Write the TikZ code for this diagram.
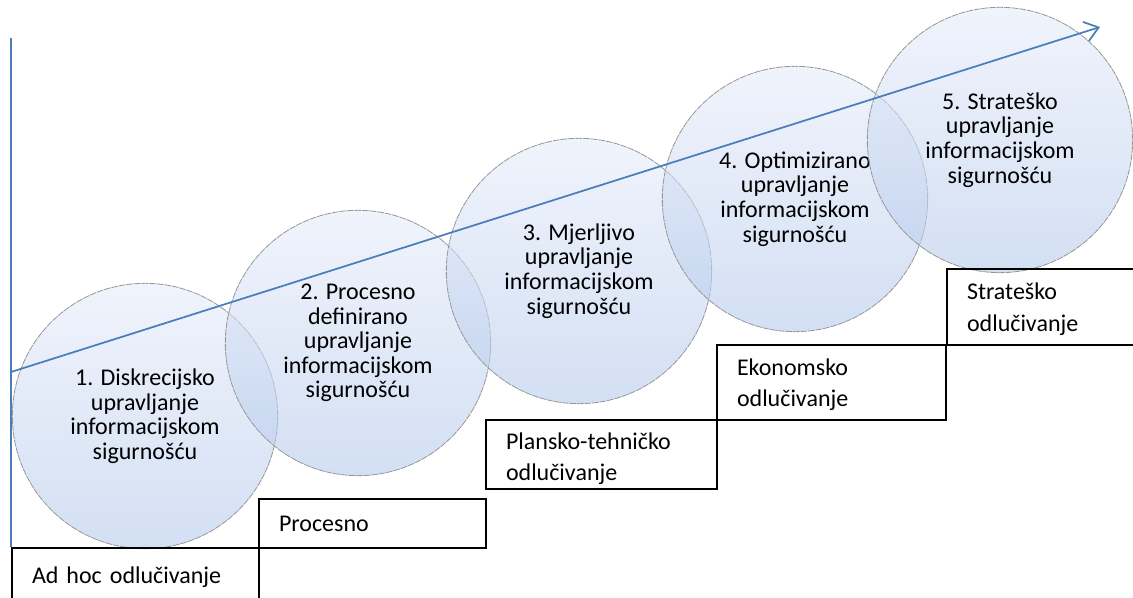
\documentclass[tikz,border=0pt]{standalone}
\usepackage{fontspec}
\setmainfont{Carlito}
\usetikzlibrary{arrows.meta}
\definecolor{axisblue}{RGB}{74,126,187}
\definecolor{ringgray}{RGB}{150,150,150}
\definecolor{bubtop}{RGB}{230,236,250}
\definecolor{bubbot}{RGB}{181,202,235}

\begin{document}
\begin{tikzpicture}[x=0.75pt, y=-0.75pt,
  bubble/.style={circle, draw=ringgray, line width=0.6pt, dash pattern=on 5pt off 0.7pt,
    minimum size=199pt, inner sep=0pt, top color=bubtop, bottom color=bubbot,
    fill opacity=0.6, text opacity=1, align=center, font=\fontsize{18}{18.4}\selectfont},
  stair/.style={draw, line width=1.5pt, anchor=north west, align=left, inner xsep=15pt,
    inner ysep=0pt, font=\fontsize{18}{23.5}\selectfont},
  growth/.style={axisblue, line width=1.3pt}]
    \clip (0,0) rectangle (1133,598);
    % levels
    \node[bubble] (c1) at (145,416) {1. Diskrecijsko\\upravljanje\\informacijskom\\sigurnošću};
    \node[bubble] (c2) at (358,343) {2. Procesno\\definirano\\upravljanje\\informacijskom\\sigurnošću};
    \node[bubble] (c3) at (579,271) {3. Mjerljivo\\upravljanje\\informacijskom\\sigurnošću};
    \node[bubble] (c4) at (795,199) {4. Optimizirano\\upravljanje\\informacijskom\\sigurnošću};
    \node[bubble] (c5) at (1000,140) {5. Strateško\\upravljanje\\informacijskom\\sigurnošću};
    % stairs
    \node[stair, text width=155pt, minimum height=44pt] (b1) at (11,547) {Ad hoc odlučivanje};
    \node[stair, text width=140pt, minimum height=37pt] (b2) at (258,498) {Procesno};
    \node[stair, text width=143pt, minimum height=52pt] (b3) at (485,419) {\rule{0pt}{19pt}Plansko-tehničko\\odlučivanje};
    \node[stair, text width=142pt, minimum height=56pt] (b4) at (716,344) {\rule{0pt}{16pt}Ekonomsko\\odlučivanje};
    \node[stair, text width=130pt, minimum height=57pt] (b5) at (946,268) {\rule{0pt}{16pt}Strateško\\odlučivanje};
    % axis and trend
    \coordinate (ytop) at (11,38);
    \coordinate (start) at (11,372);
    \coordinate (tip) at (1100,27);
    \draw[growth, line width=1.5pt] (ytop) -- (b1.north west);
    \draw[growth, -{Straight Barb[length=10pt, width=15pt]}] (start) -- (tip);
\end{tikzpicture}
\end{document}
